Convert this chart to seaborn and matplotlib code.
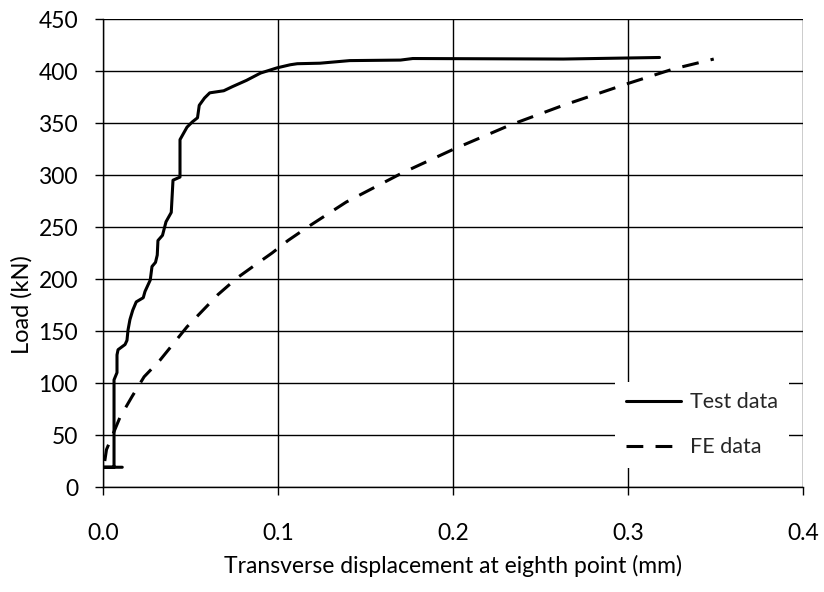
import matplotlib
matplotlib.use("Agg")
import matplotlib.pyplot as plt
import seaborn as sns
import pandas as pd

test_x = [0.011, 0.0005, 0.0063, 0.0063, 0.008, 0.008, 0.0086, 0.0126, 0.0137, 0.0143,
          0.0154, 0.017, 0.019, 0.023, 0.024, 0.027, 0.028, 0.030, 0.031, 0.0314,
          0.034, 0.036, 0.039, 0.040, 0.044, 0.044, 0.048, 0.051, 0.054, 0.055,
          0.058, 0.061, 0.069, 0.074, 0.082, 0.090, 0.0994, 0.107, 0.111, 0.124,
          0.141, 0.170, 0.177, 0.263, 0.318]
test_y = [19, 19, 19, 103, 110, 127, 132, 137, 141, 151,
          161, 170, 178, 182, 188, 199, 212, 216, 223, 237,
          242, 255, 264, 295, 298, 334, 346, 351, 355, 367,
          374, 379, 381, 385, 391, 398, 403, 406, 407, 407.5,
          410, 410.5, 412, 411.5, 413]

fe_x = [0.001, 0.002, 0.005, 0.0097, 0.0166, 0.0235, 0.0326, 0.048, 0.060, 0.0657,
        0.0766, 0.0857, 0.0966, 0.1057, 0.117, 0.139, 0.171, 0.2006, 0.2326, 0.263,
        0.300, 0.326, 0.349]
fe_y = [25, 36, 48, 67, 87, 106, 122, 154, 175, 185,
        201, 212, 225, 237, 250, 274, 302, 325, 348, 367,
        388, 402, 411.5]

x_ticks = [0.0, 0.1, 0.2, 0.3, 0.4]
y_ticks = [0, 50, 100, 150, 200, 250, 300, 350, 400, 450]

sns.set_theme(style="white")
plt.rcParams['font.family'] = ['Lato', 'DejaVu Sans']

fig = plt.figure(figsize=(8.24, 5.92), dpi=100)
ax = fig.add_axes([103/824, 105/592, 700/824, 468/592])

df_test = pd.DataFrame({"x": test_x, "y": test_y})
df_fe = pd.DataFrame({"x": fe_x, "y": fe_y})

sns.lineplot(data=df_test, x="x", y="y", sort=False, estimator=None, ax=ax,
             color="black", linewidth=2.2, label="Test data")
sns.lineplot(data=df_fe, x="x", y="y", sort=False, estimator=None, ax=ax,
             color="black", linewidth=2.2, linestyle=(0, (5.5, 4)), label="FE data")

ax.set_xlim(0, 0.4)
ax.set_ylim(0, 450)
ax.set_xticks(x_ticks)
ax.set_xticklabels([f"{v:.1f}" for v in x_ticks])
ax.set_yticks(y_ticks)
ax.set_yticklabels([str(v) for v in y_ticks])

ax.grid(True, color="black", linewidth=1.0)
ax.set_axisbelow(True)
for s in ["left", "bottom"]:
    ax.spines[s].set_visible(True)
    ax.spines[s].set_color("black")
    ax.spines[s].set_linewidth(1.0)
for s in ["top", "right"]:
    ax.spines[s].set_visible(False)

ax.tick_params(axis="both", which="major", direction="out", length=6, width=1.0,
               color="black", labelsize=16.5, labelcolor="black",
               bottom=True, left=True)
ax.tick_params(axis="x", pad=20)
ax.tick_params(axis="y", pad=12)

ax.set_xlabel("Transverse displacement at eighth point (mm)", fontsize=16.5, color="black", labelpad=8)
ax.set_ylabel("Load (kN)", fontsize=17, color="black")
ax.yaxis.set_label_coords(-0.10, 0.39)

leg = ax.legend(loc="lower left", bbox_to_anchor=(0.7314, 0.0406), borderaxespad=0,
                frameon=True, facecolor="white", edgecolor="none", framealpha=1.0,
                fancybox=False, fontsize=15.5, handlelength=2.55, handletextpad=0.45,
                borderpad=0.5, labelspacing=1.15)

fig.savefig("out.png", dpi=100)
